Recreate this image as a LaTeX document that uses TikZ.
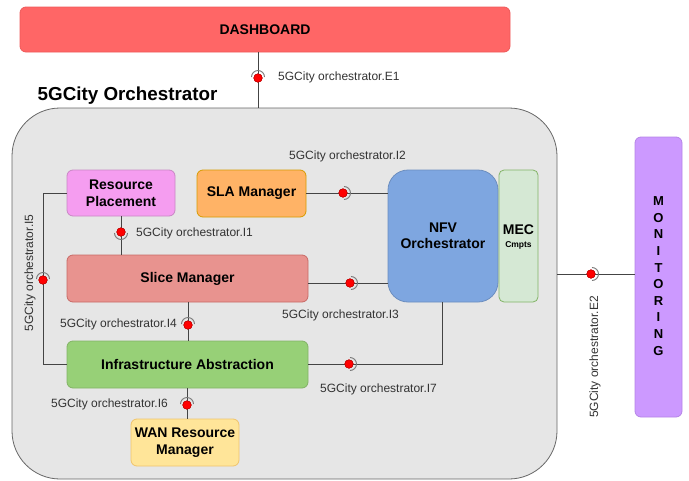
\documentclass[tikz,border=0pt]{standalone}
\usepackage{fontspec}
\setmainfont{Liberation Sans}
\definecolor{dashfill}{HTML}{FF6666}
\definecolor{dashdraw}{HTML}{EE5A5A}
\definecolor{orchfill}{HTML}{E6E6E6}
\definecolor{orchdraw}{HTML}{666666}
\definecolor{rpfill}{HTML}{F59DF0}
\definecolor{rpdraw}{HTML}{C888C4}
\definecolor{slafill}{HTML}{FFB366}
\definecolor{sladraw}{HTML}{D79B00}
\definecolor{slicefill}{HTML}{E8938F}
\definecolor{slicedraw}{HTML}{C86A66}
\definecolor{nfvfill}{HTML}{7EA6E0}
\definecolor{nfvdraw}{HTML}{6C8EBF}
\definecolor{mecfill}{HTML}{D5E8D4}
\definecolor{mecdraw}{HTML}{82B366}
\definecolor{infrafill}{HTML}{97D077}
\definecolor{infradraw}{HTML}{82B366}
\definecolor{wanfill}{HTML}{FFE599}
\definecolor{wandraw}{HTML}{F0C46C}
\definecolor{monfill}{HTML}{CC99FF}
\definecolor{mondraw}{HTML}{B585E6}
\definecolor{linecol}{HTML}{444444}
\definecolor{labcol}{HTML}{333333}
\definecolor{arccol}{HTML}{777777}
\tikzset{
  boxstyle/.style={draw, line width=0.8pt, rounded corners=6pt, align=center,
    inner sep=0pt, font=\bfseries\fontsize{14}{16.5}\selectfont},
  ifdot/.style={circle, fill=red, draw=red!70!black, line width=0.4pt,
    minimum size=8.5pt, inner sep=0pt},
  ifarc/.style={draw=arccol, line width=0.9pt},
  conn/.style={draw=linecol, line width=1pt},
  iflabel/.style={text=labcol, font=\fontsize{12}{14}\selectfont, inner sep=0pt}
}
\begin{document}
\begin{tikzpicture}[x=1pt,y=-1pt]
\useasboundingbox (0,0) rectangle (689,480);
% container
\node[draw=orchdraw, fill=orchfill, line width=0.8pt, rounded corners=48pt,
  minimum width=545pt, minimum height=371pt, inner sep=0pt] (orch) at (284.5,293.5) {};
\node[anchor=west, font=\bfseries\fontsize{18.8}{20}\selectfont, inner sep=0pt] (title) at (37.5,96) {5GCity Orchestrator};
% boxes
\node[boxstyle, fill=dashfill, draw=dashdraw, minimum width=490pt, minimum height=45pt] (dash) at (265,29.5) {DASHBOARD};
\node[boxstyle, fill=rpfill, draw=rpdraw, minimum width=108pt, minimum height=46pt] (rp) at (121,193) {Resource\\Placement};
\node[boxstyle, fill=slafill, draw=sladraw, minimum width=109pt, minimum height=47pt] (sla) at (251.5,193.5) {SLA Manager};
\node[boxstyle, fill=slicefill, draw=slicedraw, minimum width=241pt, minimum height=47pt] (slice) at (187.5,278.5) {Slice Manager};
\node[boxstyle, fill=nfvfill, draw=nfvdraw, rounded corners=20pt, minimum width=110pt, minimum height=132pt, font=\bfseries\fontsize{14}{16}\selectfont] (nfv) at (443,236) {NFV\\Orchestrator};
\node[boxstyle, fill=mecfill, draw=mecdraw, rounded corners=5pt, minimum width=39pt, minimum height=132pt] (mec) at (518.5,236) {};
\node[font=\bfseries\fontsize{14}{16}\selectfont, inner sep=0pt] (mect) at (518.5,230) {MEC};
\node[font=\bfseries\fontsize{8.5}{10}\selectfont, inner sep=0pt] (mecc) at (518.5,245) {Cmpts};
\node[boxstyle, fill=infrafill, draw=infradraw, minimum width=241pt, minimum height=47pt] (infra) at (187.5,364.5) {Infrastructure Abstraction};
\node[boxstyle, fill=wanfill, draw=wandraw, minimum width=108pt, minimum height=47pt] (wan) at (185,442.5) {WAN Resource\\Manager};
\node[boxstyle, fill=monfill, draw=mondraw, minimum width=47pt, minimum height=280pt] (mon) at (658.5,277) {};
\node[font=\bfseries\fontsize{13}{16.6}\selectfont, align=center, inner sep=0pt] (mont) at (658.5,276) {M\\O\\N\\I\\T\\O\\R\\I\\N\\G};
% interface dots
\node[ifdot] (e1) at (258,78) {};
\node[ifdot] (i2) at (343,193) {};
\node[ifdot] (i3) at (350,283) {};
\node[ifdot] (i1) at (121,232) {};
\node[ifdot] (i5) at (43,280) {};
\node[ifdot] (i4) at (188,325) {};
\node[ifdot] (i7) at (349,364) {};
\node[ifdot] (i6) at (187,405) {};
\node[ifdot] (e2) at (591,274) {};
\coordinate (nfvb) at (442,364);
% connectors
\draw[conn] (dash.south -| e1) -- (e1) -- (e1 |- orch.north);
\draw[conn] (sla.east |- i2) -- (i2) -- (i2 -| nfv.west);
\draw[conn] (i3 -| slice.east) -- (i3) -- (i3 -| nfv.west);
\draw[conn] (rp.south -| i1) -- (i1) -- (i1 |- slice.north);
\draw[conn] (rp.west) -| (i5) |- (infra.west);
\draw[conn] (slice.south -| i4) -- (i4) -- (i4 |- infra.north);
\draw[conn] (infra.east |- i7) -- (i7) -- (nfvb) -- (nfvb |- nfv.south);
\draw[conn] (infra.south -| i6) -- (i6) -- (i6 |- wan.north);
\draw[conn] (orch.east |- e2) -- (e2) -- (e2 -| mon.west);
% redraw dots on top
\foreach \n in {e1,i2,i3,i1,i5,i4,i7,i6,e2}{\node[ifdot] at (\n) {};}
% sockets (centred slightly towards the socket side)
\foreach \n in {e1,i5,i4,i6}{
  \draw[ifarc] ([yshift=1pt]\n.center) ++(180:6.5pt) arc[start angle=180, end angle=0, radius=6.5pt];}
\draw[ifarc] ([yshift=-1pt]i1.center) ++(180:6.5pt) arc[start angle=180, end angle=360, radius=6.5pt];
\foreach \n in {i2,i3,i7,e2}{
  \draw[ifarc] ([xshift=1pt]\n.center) ++(90:6.5pt) arc[start angle=90, end angle=-90, radius=6.5pt];}
% labels
\node[iflabel, anchor=west] (le1) at (278,77) {5GCity orchestrator.E1};
\node[iflabel, anchor=west] (li2) at (289,156) {5GCity orchestrator.I2};
\node[iflabel, anchor=west] (li1) at (136,233) {5GCity orchestrator.I1};
\node[iflabel, anchor=west] (li3) at (282,315) {5GCity orchestrator.I3};
\node[iflabel, anchor=east] (li4) at (177,324) {5GCity orchestrator.I4};
\node[iflabel, anchor=west] (li7) at (320,389) {5GCity orchestrator.I7};
\node[iflabel, anchor=east] (li6) at (168,404) {5GCity orchestrator.I6};
\node[iflabel, rotate=90] (li5) at (30,273) {5GCity orchestrator.I5};
\node[iflabel, rotate=90] (le2) at (595,357) {5GCity orchestrator.E2};
\end{tikzpicture}
\end{document}
